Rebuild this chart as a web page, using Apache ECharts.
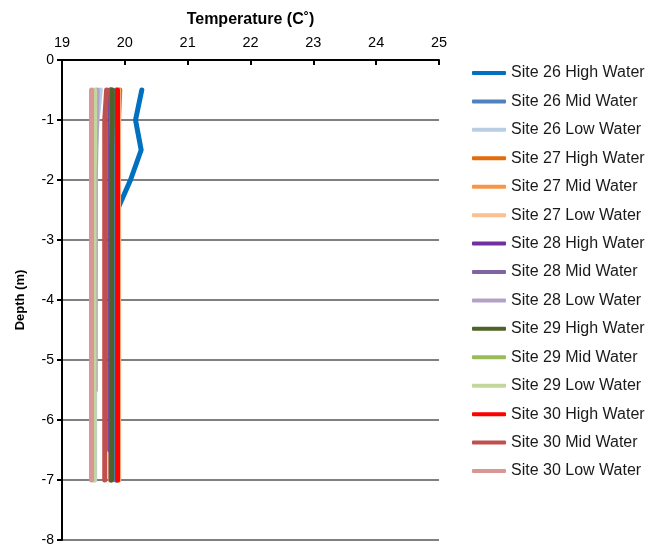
<!DOCTYPE html>
<html><head><meta charset="utf-8">
<script src="https://cdn.jsdelivr.net/npm/echarts@6/dist/echarts.min.js"></script>
<style>html,body{margin:0;padding:0;background:#fff}#c{width:659px;height:550px}</style>
</head><body><div id="c"></div>
<script>
const depths = [-0.5,-1,-1.5,-2,-2.5,-3,-3.5,-4,-4.5,-5,-5.5,-6,-6.5,-7];
const seriesNames = ['Site 26 High Water','Site 26 Mid Water','Site 26 Low Water','Site 27 High Water','Site 27 Mid Water','Site 27 Low Water','Site 28 High Water','Site 28 Mid Water','Site 28 Low Water','Site 29 High Water','Site 29 Mid Water','Site 29 Low Water','Site 30 High Water','Site 30 Mid Water','Site 30 Low Water'];
const s26High = [20.27,20.17,20.26,20.09,19.88,19.87,19.87,19.87,19.87,19.87,19.87,19.87,19.87,19.87];
const s26Mid  = [19.86,19.86,19.86,19.86,19.86,19.86,19.86,19.86,19.86,19.86,19.86,19.86,19.86,19.86];
const s26Low  = [19.61,19.56,19.53,19.53,19.53,19.53,19.53,19.52,19.52,19.52,19.52,19.52,19.52,19.52];
const s27High = [19.92,19.90,19.90,19.90,19.90,19.90,19.90,19.90,19.90,19.90,19.90,19.90,19.90,19.90];
const s27Mid  = [19.76,19.77,19.77,19.77,19.77,19.77,19.77,19.77,19.77,19.77,19.77,19.77,19.77,19.77];
const s27Low  = [19.90,19.90,19.90,19.90,19.90,19.90,19.90,19.90,19.90,19.90,19.90,19.90,19.90,19.90];
const s28High = [19.77,19.76,19.76,19.76,19.76,19.76,19.76,19.76,19.76,19.76,19.76,19.76,19.76];
const s28Mid  = [19.78,19.78,19.78,19.78,19.78,19.78,19.78,19.78,19.78,19.78,19.78,19.78,19.78,19.78];
const s28Low  = [19.56,19.55,19.54,19.53,19.53,19.53,19.53,19.53,19.53,19.53,19.53];
const s29High = [19.80,19.80,19.79,19.79,19.79,19.79,19.79,19.79,19.79,19.79,19.79,19.79,19.79,19.79];
const s29Mid  = [19.79,19.79,19.79,19.79,19.79,19.79,19.79,19.79,19.79,19.79,19.79,19.79,19.79];
const s29Low  = [19.52,19.52,19.52,19.51,19.51,19.51,19.51,19.51,19.51,19.51,19.51,19.51,19.51,19.51];
const s30High = [19.885,19.885,19.885,19.885,19.885,19.885,19.885,19.885,19.885,19.885,19.885,19.885,19.885,19.885];
const s30Mid  = [19.71,19.68,19.68,19.68,19.68,19.68,19.68,19.68,19.68,19.68,19.68,19.68,19.68,19.68];
const s30Low  = [19.47,19.47,19.47,19.47,19.47,19.47,19.47,19.47,19.47,19.47,19.47,19.47,19.47,19.47];
const xTicks = [19,20,21,22,23,24,25];
const yTicks = [0,-1,-2,-3,-4,-5,-6,-7,-8];
const colors = ['#0070C0','#4F81BD','#B9CDE5','#E46C0A','#F79646','#FAC090','#7030A0','#8064A2','#B3A2C7','#4F6228','#9BBB59','#C3D69B','#FF0000','#C0504D','#D99694'];
const zOrder = [2,2,2,2,2,2,2,2,2,3,1,2,4,4,4];
const allTemps = [s26High,s26Mid,s26Low,s27High,s27Mid,s27Low,s28High,s28Mid,s28Low,s29High,s29Mid,s29Low,s30High,s30Mid,s30Low];

const series = seriesNames.map((n,i)=>({
  name:n, type:'line', symbol:'none', animation:false, z:zOrder[i],
  data: allTemps[i].map((t,j)=>[t, depths[j]]),
  lineStyle:{color:colors[i], width:5, cap:'round', join:'round'},
  itemStyle:{color:colors[i]}
}));
const font = 'Liberation Sans, Arial, sans-serif';
const chart = echarts.init(document.getElementById('c'));
chart.setOption({
  backgroundColor:'#fff',
  animation:false,
  grid:{left:62, right:220, top:60, bottom:10, containLabel:false},
  xAxis:{type:'value', position:'top', min:xTicks[0], max:xTicks[xTicks.length-1], interval:1,
    name:'Temperature (C˚)', nameLocation:'middle', nameGap:32,
    nameTextStyle:{fontFamily:font, fontSize:16, fontWeight:'bold', color:'#000'},
    axisLine:{show:true, onZero:false, lineStyle:{color:'#000', width:2}},
    axisTick:{show:true, inside:true, length:5, lineStyle:{color:'#000', width:2}},
    axisLabel:{fontFamily:font, fontSize:14.5, color:'#000', margin:10},
    splitLine:{show:false}},
  yAxis:{type:'value', min:yTicks[yTicks.length-1], max:yTicks[0], interval:1,
    name:'Depth (m)', nameLocation:'middle', nameGap:35, nameRotate:90,
    nameTextStyle:{fontFamily:font, fontSize:13, fontWeight:'bold', color:'#000'},
    axisLine:{show:true, onZero:false, lineStyle:{color:'#000', width:2}},
    axisTick:{show:true, length:5, lineStyle:{color:'#000', width:2}},
    axisLabel:{fontFamily:font, fontSize:14, color:'#000', margin:8},
    splitLine:{show:true, lineStyle:{color:'#808080', width:2}}},
  legend:{orient:'vertical', left:472, top:65, padding:0, itemWidth:34, itemHeight:4, itemGap:12.43,
    icon:'roundRect',
    textStyle:{fontFamily:font, fontSize:16, color:'#1a1a1a'},
    data: seriesNames},
  series: series
});
</script></body></html>
